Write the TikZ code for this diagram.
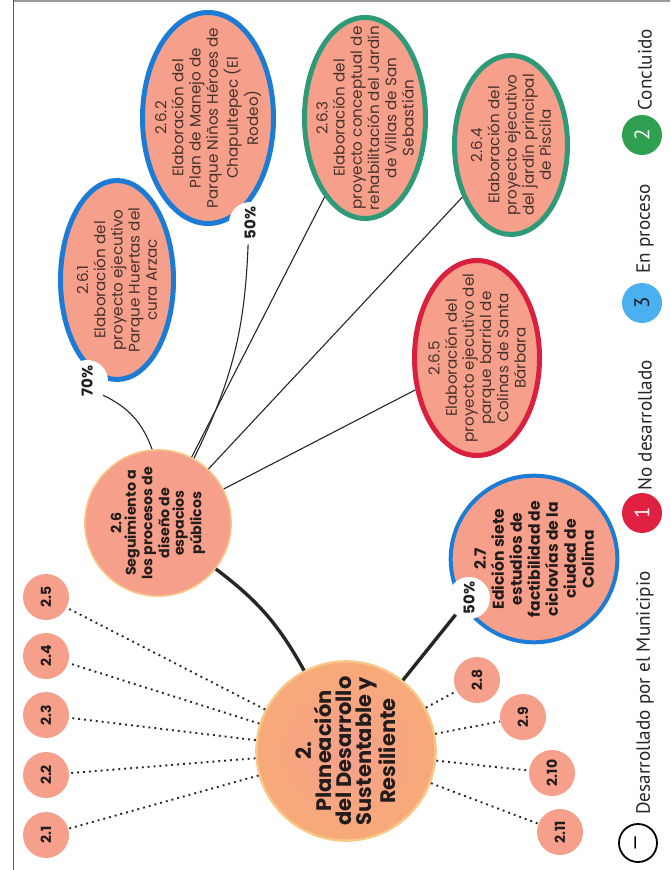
\documentclass[tikz,border=0pt]{standalone}
\usepackage{fontspec}
\setmainfont{Poppins}
\newfontfamily\legfont{PT Sans}
\usetikzlibrary{shapes.geometric}
\definecolor{salmon}{RGB}{246,160,140}
\definecolor{salmonB}{RGB}{247,170,120}
\definecolor{halo}{RGB}{248,200,135}
\definecolor{blueB}{RGB}{28,123,212}
\definecolor{greenB}{RGB}{46,154,120}
\definecolor{redB}{RGB}{217,32,63}
\definecolor{legred}{RGB}{224,32,64}
\definecolor{legblue}{RGB}{74,176,240}
\definecolor{leggreen}{RGB}{47,160,80}
\definecolor{txtdark}{RGB}{35,28,28}
\definecolor{txtbrown}{RGB}{70,50,45}
\begin{document}
\begin{tikzpicture}[x=0.5pt,y=-0.5pt,
  leafnode/.style={circle, fill=salmon, minimum size=23pt, inner sep=0pt, rotate=90,
    font=\bfseries\fontsize{7}{8}\selectfont, text=txtdark},
  ellnode/.style={ellipse, fill=salmon, line width=2.5pt, inner sep=0pt},
  elltext/.style={rotate=90, align=center, inner sep=0pt,
    font=\fontsize{7.6}{8.6}\selectfont, text=txtbrown},
  pctnode/.style={circle, fill=white, minimum size=21pt, inner sep=0pt, rotate=90,
    font=\bfseries\fontsize{7.5}{8}\selectfont, text=txtdark},
  legnode/.style={circle, minimum size=20pt, inner sep=0pt, rotate=90,
    font=\legfont\fontsize{10.5}{11}\selectfont},
  legtext/.style={rotate=90, anchor=west, inner sep=0pt,
    font=\legfont\fontsize{9.6}{11}\selectfont, text=black!85},
  dotln/.style={dotted, line width=0.95pt, black!85},
  thinln/.style={line width=0.55pt, black!85},
  heavyln/.style={line width=1.7pt, black!85},
]
\useasboundingbox (0,0) rectangle (670,870);
% frame lines
\draw[black!40, line width=0.8pt] (13,1) -- (670,1);
\draw[black!65, line width=0.5pt] (13,0) -- (13,870);

% main node
\node[circle, minimum size=88pt, inner sep=0pt, inner color=salmon, outer color=salmonB,
  draw=halo, line width=1.2pt, rotate=90, align=center,
  font=\bfseries\fontsize{10.5}{10}\selectfont, text=txtdark] (main) at (346,751)
  {2.\\Planeación\\del Desarrollo\\Sustentable y\\Resiliente};

% 2.6
\node[circle, minimum size=73pt, inner sep=0pt, fill=salmon, draw=halo, line width=0.8pt,
  rotate=90, align=center, font=\bfseries\fontsize{7.1}{7.2}\selectfont, text=txtdark]
  (n26) at (158,523) {2.6\\Seguimiento a\\los procesos de\\diseño de\\espacios\\públicos};

% 2.7
\node[circle, minimum size=75pt, inner sep=0pt, fill=salmon, draw=blueB, line width=2pt,
  rotate=90, align=center, font=\bfseries\fontsize{7.8}{9}\selectfont, text=txtdark]
  (n27) at (534,559) {2.7\\Edición siete\\estudios de\\factibilidad de\\ciclovías de la\\ciudad de\\Colima};

% small nodes
\node[leafnode] (n21) at (46,835) {2.1};
\node[leafnode] (n22) at (46,775) {2.2};
\node[leafnode] (n23) at (46,715) {2.3};
\node[leafnode] (n24) at (46,656) {2.4};
\node[leafnode] (n25) at (46,597) {2.5};
\node[leafnode] (n28) at (477,680) {2.8};
\node[leafnode] (n29) at (523,717) {2.9};
\node[leafnode] (n210) at (552,773) {2.10};
\node[leafnode] (n211) at (560,832) {2.11};

% ellipses (page width x page height)
\node[ellnode, draw=blueB, minimum width=56.5pt, minimum height=99.5pt] (n261) at (117,280) {};
\node[elltext] (t261) at (n261) {2.6.1\\Elaboración del\\proyecto ejecutivo\\Parque Huertas del\\cura Arzac};
\node[ellnode, draw=blueB, minimum width=65.5pt, minimum height=105.5pt] (n262) at (208,118) {};
\node[elltext] (t262) at (n262) {2.6.2\\Elaboración del\\Plan de Manejo de\\Parque Niños Héroes de\\Chapultepec (El\\Rodeo)};
\node[ellnode, draw=greenB, minimum width=60.5pt, minimum height=100.5pt] (n263) at (365,118) {};
\node[elltext] (t263) at (n263) {2.6.3\\Elaboración del\\proyecto conceptual de\\rehabilitación del Jardín\\de Villas de San\\Sebastián};
\node[ellnode, draw=greenB, minimum width=56.5pt, minimum height=89.5pt] (n264) at (511,145) {};
\node[elltext] (t264) at (n264) {2.6.4\\Elaboración del\\proyecto ejecutivo\\del jardín principal\\de Piscila};
\node[ellnode, draw=redB, minimum width=62.5pt, minimum height=97.5pt] (n265) at (477,358) {};
\node[elltext] (t265) at (n265) {2.6.5\\Elaboración del\\proyecto ejecutivo del\\parque barrial de\\Colinas de Santa\\Bárbara};

% percent bubbles
\node[pctnode] (p261) at (87,381) {70\%};
\node[pctnode] (p262) at (250,223) {50\%};
\node[pctnode] (p27) at (469,598) {50\%};

% connectors
\foreach \n in {n21,n22,n23,n24,n25,n28,n29,n210,n211}
  \draw[dotln] (main) -- (\n);
\draw[heavyln] (n26) to[bend left=12] (main);
\draw[heavyln] (main) -- (p27);
\draw[thinln] (p261) to[bend left=22] (n26);
\draw[thinln] (p262) to[bend left=12] (n26);
\draw[thinln] (n26) -- (n263);
\draw[thinln] (n26) -- (n264);
\draw[thinln] (n26) -- (n265);

% legend
\node[legnode, draw=black, line width=0.9pt, minimum size=19pt] (l0) at (638,843) {—};
\node[legtext] (t0) at (645,815) {Desarrollado por el Municipio};
\node[legnode, fill=legred, text=white] (l1) at (642,513) {1};
\node[legtext] (t1) at (645,491) {No desarrollado};
\node[legnode, fill=legblue, text=txtdark] (l3) at (642,303) {3};
\node[legtext] (t3) at (645,274) {En proceso};
\node[legnode, fill=leggreen, text=white] (l2) at (642,135) {2};
\node[legtext] (t2) at (645,111) {Concluido};
\end{tikzpicture}
\end{document}
